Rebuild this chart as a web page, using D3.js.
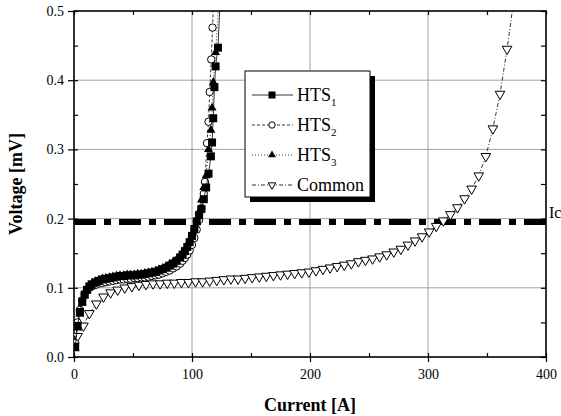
<!DOCTYPE html>
<html>
<head>
<meta charset="utf-8">
<script src="https://cdn.jsdelivr.net/npm/d3@7"></script>
<style>
  body { margin: 0; background: #fff; }
  svg text { font-family: "Liberation Serif", "Times New Roman", Times, "DejaVu Serif", serif; fill: #000; }
</style>
</head>
<body>
<div id="chart"></div>
<script>
// HTS tapes, current [A] and voltage [mV]
var hts1Current = [1, 3, 5, 7, 9, 11, 13, 15, 18, 21, 24, 27, 30, 33, 36, 39, 42, 45, 48, 51, 54, 57, 60, 63, 66, 69, 72, 75, 78, 81, 84, 87, 90, 92, 94, 96, 98, 100, 102, 104, 106, 108, 110, 112, 114, 116, 117, 118, 119, 120, 122, 124];
var hts1Voltage = [0.015, 0.045, 0.065, 0.080, 0.090, 0.097, 0.102, 0.105, 0.108, 0.110, 0.112, 0.113, 0.114, 0.115, 0.116, 0.117, 0.117, 0.118, 0.118, 0.118, 0.119, 0.119, 0.120, 0.121, 0.122, 0.123, 0.125, 0.127, 0.129, 0.132, 0.135, 0.139, 0.144, 0.148, 0.153, 0.159, 0.166, 0.175, 0.185, 0.196, 0.205, 0.214, 0.228, 0.245, 0.265, 0.290, 0.310, 0.345, 0.390, 0.420, 0.447, 0.52];

var hts2Current = [1, 3, 5, 7, 9, 11, 13, 15, 18, 21, 24, 27, 30, 33, 36, 39, 42, 45, 48, 51, 54, 57, 60, 63, 66, 69, 72, 75, 78, 81, 84, 87, 90, 92, 94, 96, 98, 100, 102, 104, 106, 108, 110, 111, 112.7, 114, 115, 116.3, 117.4, 118.5];
var hts2Voltage = [0.020, 0.050, 0.068, 0.082, 0.091, 0.097, 0.100, 0.102, 0.104, 0.106, 0.107, 0.108, 0.109, 0.110, 0.111, 0.112, 0.112, 0.113, 0.113, 0.114, 0.114, 0.115, 0.115, 0.116, 0.117, 0.118, 0.119, 0.121, 0.123, 0.125, 0.128, 0.131, 0.135, 0.139, 0.143, 0.148, 0.154, 0.162, 0.172, 0.184, 0.198, 0.215, 0.236, 0.253, 0.309, 0.340, 0.383, 0.430, 0.476, 0.52];

var hts3Current = [1, 3, 5, 7, 9, 11, 13, 15, 18, 21, 24, 27, 30, 33, 36, 39, 42, 45, 48, 51, 54, 57, 60, 63, 66, 69, 72, 75, 78, 81, 84, 87, 90, 92, 94, 96, 98, 100, 102, 104, 106, 108, 110, 112, 114, 116, 117, 118, 120, 123];
var hts3Voltage = [0.012, 0.042, 0.062, 0.078, 0.089, 0.097, 0.102, 0.106, 0.109, 0.111, 0.113, 0.114, 0.115, 0.116, 0.117, 0.118, 0.118, 0.119, 0.119, 0.119, 0.120, 0.120, 0.121, 0.122, 0.123, 0.124, 0.126, 0.128, 0.131, 0.134, 0.137, 0.141, 0.146, 0.150, 0.155, 0.161, 0.168, 0.177, 0.187, 0.199, 0.210, 0.227, 0.245, 0.262, 0.300, 0.328, 0.360, 0.397, 0.440, 0.52];

// common (all tapes together)
var commonCurrent = [3, 8, 13, 19, 25, 31, 37, 43, 49, 55, 61, 67, 73, 79, 85, 91, 97, 103, 109, 115, 121, 127, 133, 139, 145, 151, 157, 163, 169, 175, 181, 187, 193, 199, 205, 211, 217, 223, 229, 235, 241, 247, 253, 259, 265, 271, 277, 283, 289, 295, 301, 307, 313, 319, 325, 331, 337, 343, 349, 355, 361, 367, 373];
var commonVoltage = [0.030, 0.045, 0.063, 0.077, 0.087, 0.093, 0.097, 0.100, 0.102, 0.104, 0.105, 0.106, 0.106, 0.107, 0.107, 0.108, 0.108, 0.109, 0.109, 0.110, 0.111, 0.112, 0.113, 0.113, 0.114, 0.115, 0.116, 0.117, 0.118, 0.119, 0.120, 0.121, 0.122, 0.123, 0.125, 0.127, 0.129, 0.131, 0.133, 0.135, 0.138, 0.140, 0.142, 0.145, 0.148, 0.152, 0.156, 0.162, 0.168, 0.174, 0.181, 0.189, 0.197, 0.206, 0.216, 0.229, 0.243, 0.262, 0.290, 0.330, 0.380, 0.445, 0.52];

var icLevel = 0.195;
var xTicks = [0, 100, 200, 300, 400];
var yTicks = [0.0, 0.1, 0.2, 0.3, 0.4, 0.5];
var seriesNames = ["HTS1", "HTS2", "HTS3", "Common"];

var WIDTH = 561, HEIGHT = 416;
var MARGIN = {LEFT: 74, RIGHT: 15, TOP: 11, BOTTOM: 59};
var SERIF = "'Liberation Serif', 'Times New Roman', Times, 'DejaVu Serif', serif";

var svg = d3.select("#chart")
    .append("svg")
    .attr("width", WIDTH)
    .attr("height", HEIGHT)
    .attr("font-family", SERIF);

var x = d3.scaleLinear().domain([0, 400]).range([MARGIN.LEFT, WIDTH - MARGIN.RIGHT]);
var y = d3.scaleLinear().domain([0, 0.5]).range([HEIGHT - MARGIN.BOTTOM, MARGIN.TOP]);

// clip everything to the frame
svg.append("clipPath").attr("id", "plotClip")
    .append("rect")
    .attr("x", x(0)).attr("y", y(0.5))
    .attr("width", x(400) - x(0)).attr("height", y(0) - y(0.5));

// grid
var grid = svg.append("g").attr("stroke", "#8a8a8a").attr("stroke-width", 0.8);
grid.selectAll("line.gx").data(xTicks.slice(1, -1)).enter().append("line")
    .attr("x1", function(d) { return x(d); }).attr("x2", function(d) { return x(d); })
    .attr("y1", y(0)).attr("y2", y(0.5));
grid.selectAll("line.gy").data(yTicks.slice(1, -1)).enter().append("line")
    .attr("y1", function(d) { return y(d); }).attr("y2", function(d) { return y(d); })
    .attr("x1", x(0)).attr("x2", x(400));

// axes
function styleAxis(g) {
    g.select(".domain").remove();
    g.selectAll("line").attr("stroke", "#000").attr("stroke-width", 1.2);
    g.attr("font-family", SERIF);
    g.selectAll("text").attr("font-family", SERIF).style("font-size", "14px");
}
var xMinor = d3.range(0, 401, 50);
var yMinor = d3.range(0, 0.501, 0.05);

svg.append("g").attr("transform", "translate(0," + y(0) + ")")
    .call(d3.axisBottom(x).tickValues(xTicks).tickSizeInner(5).tickSizeOuter(0).tickPadding(7).tickFormat(d3.format("d")))
    .call(styleAxis);
svg.append("g").attr("transform", "translate(0," + y(0) + ")")
    .call(d3.axisTop(x).tickValues(xMinor).tickSize(4).tickFormat(""))
    .call(styleAxis);
svg.append("g").attr("transform", "translate(0," + y(0.5) + ")")
    .call(d3.axisBottom(x).tickValues(xMinor).tickSize(4).tickFormat(""))
    .call(styleAxis);

svg.append("g").attr("transform", "translate(" + x(0) + ",0)")
    .call(d3.axisLeft(y).tickValues(yTicks).tickSizeInner(6).tickSizeOuter(0).tickPadding(4).tickFormat(d3.format(".1f")))
    .call(styleAxis);
svg.append("g").attr("transform", "translate(" + x(0) + ",0)")
    .call(d3.axisRight(y).tickValues(yMinor).tickSize(4).tickFormat(""))
    .call(styleAxis);
svg.append("g").attr("transform", "translate(" + x(400) + ",0)")
    .call(d3.axisLeft(y).tickValues(yMinor).tickSize(5).tickFormat(""))
    .call(styleAxis);

// frame
svg.append("rect")
    .attr("x", x(0)).attr("y", y(0.5))
    .attr("width", x(400) - x(0)).attr("height", y(0) - y(0.5))
    .attr("fill", "none").attr("stroke", "#000").attr("stroke-width", 1.6);

// Ic criterion line
svg.append("line")
    .attr("x1", x(0)).attr("x2", x(400))
    .attr("y1", y(icLevel)).attr("y2", y(icLevel))
    .attr("stroke", "#000").attr("stroke-width", 6)
    .attr("stroke-dasharray", "22,8,7,8");
svg.append("text").attr("x", x(400) + 3).attr("y", y(icLevel) - 4)
    .style("font-size", "16px").text("Ic");

// series
var series = [
    {cur: hts1Current, volt: hts1Voltage, dash: null, marker: "square"},
    {cur: hts2Current, volt: hts2Voltage, dash: "3,2", marker: "circle"},
    {cur: hts3Current, volt: hts3Voltage, dash: "1,2", marker: "triangle"},
    {cur: commonCurrent, volt: commonVoltage, dash: "4,2,1,2", marker: "down"}
];

var line = d3.line()
    .x(function(d) { return x(d[0]); })
    .y(function(d) { return y(d[1]); });

function drawMarker(g, type, size) {
    if (type === "square") {
        g.append("path").attr("d", d3.symbol().type(d3.symbolSquare).size(size * size)())
            .attr("fill", "#000").attr("stroke", "none");
    } else if (type === "circle") {
        g.append("circle").attr("r", size / 2 - 0.3)
            .attr("fill", "#fff").attr("stroke", "#000").attr("stroke-width", 1);
    } else if (type === "triangle") {
        g.append("path").attr("d", d3.symbol().type(d3.symbolTriangle).size(size * size * 0.55)())
            .attr("fill", "#000").attr("stroke", "none");
    } else {
        g.append("path").attr("d", d3.symbol().type(d3.symbolTriangle).size(size * size * 0.5)())
            .attr("transform", "rotate(180)")
            .attr("fill", "#fff").attr("stroke", "#000").attr("stroke-width", 1);
    }
}

var plot = svg.append("g").attr("clip-path", "url(#plotClip)");

// draw common first, then HTS 3, 2, 1 on top
[3, 2, 1, 0].forEach(function(i) {
    var s = series[i];
    var pts = s.cur.map(function(c, k) { return [c, s.volt[k]]; });
    plot.append("path").datum(pts)
        .attr("d", line)
        .attr("fill", "none").attr("stroke", "#000").attr("stroke-width", 0.8)
        .attr("stroke-dasharray", s.dash);
    var size = i === 3 ? 9 : 8;
    plot.append("g").selectAll("g").data(pts).enter().append("g")
        .attr("transform", function(d) { return "translate(" + x(d[0]) + "," + y(d[1]) + ")"; })
        .each(function() { drawMarker(d3.select(this), s.marker, size); });
});

// legend
var lg = svg.append("g").attr("transform", "translate(245,71)");
lg.append("rect").attr("x", 5).attr("y", 5).attr("width", 125).attr("height", 126).attr("fill", "#000");
lg.append("rect").attr("width", 125).attr("height", 126)
    .attr("fill", "#fff").attr("stroke", "#000").attr("stroke-width", 1);

seriesNames.forEach(function(name, i) {
    var s = series[i];
    var cy = 24 + i * 30;
    lg.append("line").attr("x1", 7).attr("x2", 48).attr("y1", cy).attr("y2", cy)
        .attr("stroke", "#000").attr("stroke-width", 0.8).attr("stroke-dasharray", s.dash);
    var m = lg.append("g").attr("transform", "translate(27," + cy + ")");
    drawMarker(m, s.marker, 7);
    var t = lg.append("text").attr("x", 52).attr("y", cy + 6).style("font-size", "18px");
    if (name.indexOf("HTS") === 0) {
        t.append("tspan").text("HTS");
        t.append("tspan").attr("dy", 5).style("font-size", "11px").text(name.slice(3));
    } else {
        t.text(name);
    }
});

// axis titles
svg.append("text")
    .attr("x", x(200)).attr("y", 411)
    .attr("text-anchor", "middle")
    .style("font-size", "18px").style("font-weight", "bold")
    .text("Current [A]");
svg.append("text")
    .attr("transform", "translate(22," + y(0.25) + ") rotate(-90)")
    .attr("text-anchor", "middle")
    .style("font-size", "18px").style("font-weight", "bold")
    .text("Voltage [mV]");
</script>
</body>
</html>
